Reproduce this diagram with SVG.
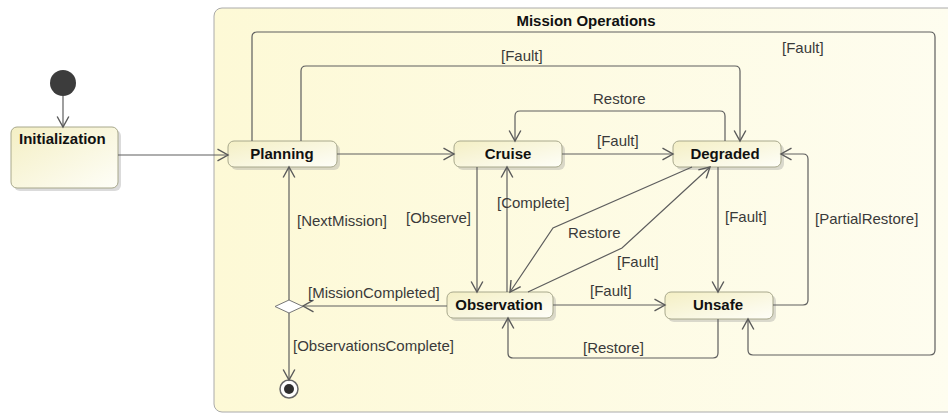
<svg xmlns="http://www.w3.org/2000/svg" width="948" height="414" viewBox="0 0 948 414">
<defs>
<linearGradient id="ng" x1="0" y1="0" x2="1" y2="1">
<stop offset="0" stop-color="#f4efc4"/>
<stop offset="1" stop-color="#fefef8"/>
</linearGradient>
<linearGradient id="cg" x1="0" y1="0" x2="1" y2="0">
<stop offset="0" stop-color="#fdf9d6"/>
<stop offset="1" stop-color="#fefdf0"/>
</linearGradient>
<marker id="ar" markerUnits="userSpaceOnUse" markerWidth="14" markerHeight="14" refX="10" refY="6" orient="auto" viewBox="0 0 12 12">
<path d="M1,1 L10,6 L1,11" fill="none" stroke="#5a5a5a" stroke-width="1.2"/>
</marker>
</defs>
<style>
.node{fill:url(#ng);stroke:#a8a88c;stroke-width:1}
.shadow{fill:#999;opacity:0.35}
.nt{font-family:"Liberation Sans",Arial,sans-serif;font-weight:bold;font-size:15px;fill:#111;text-anchor:middle}
.lb{font-family:"Liberation Sans",Arial,sans-serif;font-size:15px;fill:#3a3a3a}
.c{fill:none;stroke:#5e5e5e;stroke-width:1.2;marker-end:url(#ar)}
</style>
<rect x="0" y="0" width="948" height="414" fill="#ffffff"/>
<g id="mission-operations">
<rect x="214" y="8" width="760" height="404" rx="8" fill="url(#cg)" stroke="#aaa" stroke-width="1"/>
<text class="nt" x="586" y="26">Mission Operations</text>
</g>
<g id="initial">
<circle cx="63" cy="83" r="13" fill="#3c3c3c"/>
</g>
<g id="initialization">
<rect class="shadow" x="14" y="130" width="107" height="61" rx="6"/>
<rect class="node" x="11" y="127" width="107" height="61" rx="6"/>
<text class="nt" x="19" y="144" style="text-anchor:start">Initialization</text>
</g>
<g id="planning">
<rect class="shadow" x="231" y="144" width="109" height="26" rx="6"/>
<rect class="node" x="228" y="141" width="109" height="26" rx="6"/>
<text class="nt" x="282" y="159">Planning</text>
</g>
<g id="cruise">
<rect class="shadow" x="457" y="144" width="108" height="26" rx="6"/>
<rect class="node" x="454" y="141" width="108" height="26" rx="6"/>
<text class="nt" x="508" y="159">Cruise</text>
</g>
<g id="degraded">
<rect class="shadow" x="676" y="144" width="108" height="26" rx="6"/>
<rect class="node" x="673" y="141" width="108" height="26" rx="6"/>
<text class="nt" x="725" y="159">Degraded</text>
</g>
<g id="observation">
<rect class="shadow" x="450" y="295" width="106" height="26" rx="6"/>
<rect class="node" x="447" y="292" width="106" height="26" rx="6"/>
<text class="nt" x="499" y="310">Observation</text>
</g>
<g id="unsafe">
<rect class="shadow" x="668" y="295" width="108" height="27" rx="6"/>
<rect class="node" x="665" y="292" width="108" height="27" rx="6"/>
<text class="nt" x="718" y="310">Unsafe</text>
</g>
<g id="decision">
<polygon points="275,306.5 289,300 303,306.5 289,313" fill="#ffffff" stroke="#777" stroke-width="1"/>
</g>
<g id="final">
<circle cx="289" cy="389" r="9" fill="#ffffff" stroke="#666" stroke-width="1.5"/>
<circle cx="289" cy="389" r="5" fill="#2e2e2e"/>
</g>
<g id="connectors">
<path class="c" d="M63,96 V127"/>
<path class="c" d="M118,155 H228"/>
<path class="c" d="M252,141 V37 Q252,32 257,32 H930 Q935,32 935,37 V350 Q935,355 930,355 H753 Q748,355 748,350 V319"/>
<path class="c" d="M301,141 V71 Q301,66 306,66 H735 Q740,66 740,71 V141"/>
<path class="c" d="M725,141 V116 Q725,111 720,111 H520 Q515,111 515,116 V141"/>
<path class="c" d="M562,154 H673"/>
<path class="c" d="M337,154 H454"/>
<path class="c" d="M477,167 V292"/>
<path class="c" d="M507,292 V167"/>
<path class="c" d="M692,167 L553,228 L510,292"/>
<path class="c" d="M528,292 L622,248 L710,167"/>
<path class="c" d="M553,305 H665"/>
<path class="c" d="M718,167 V292"/>
<path class="c" d="M773,305 H803 Q808,305 808,300 V159 Q808,154 803,154 H781"/>
<path class="c" d="M718,319 V353 Q718,358 713,358 H513 Q508,358 508,353 V318"/>
<path class="c" d="M447,306 H303"/>
<path class="c" d="M289,300 V167"/>
<path class="c" d="M289,313 V380"/>
<text class="lb" x="782" y="53">[Fault]</text>
<text class="lb" x="501" y="61">[Fault]</text>
<text class="lb" x="593" y="104">Restore</text>
<text class="lb" x="597" y="146">[Fault]</text>
<text class="lb" x="406" y="223">[Observe]</text>
<text class="lb" x="497" y="208">[Complete]</text>
<text class="lb" x="297" y="226">[NextMission]</text>
<text class="lb" x="568" y="238">Restore</text>
<text class="lb" x="617" y="267">[Fault]</text>
<text class="lb" x="590" y="296">[Fault]</text>
<text class="lb" x="308" y="298">[MissionCompleted]</text>
<text class="lb" x="725" y="222">[Fault]</text>
<text class="lb" x="815" y="224">[PartialRestore]</text>
<text class="lb" x="583" y="353">[Restore]</text>
<text class="lb" x="293" y="351">[ObservationsComplete]</text>
</g>
</svg>
